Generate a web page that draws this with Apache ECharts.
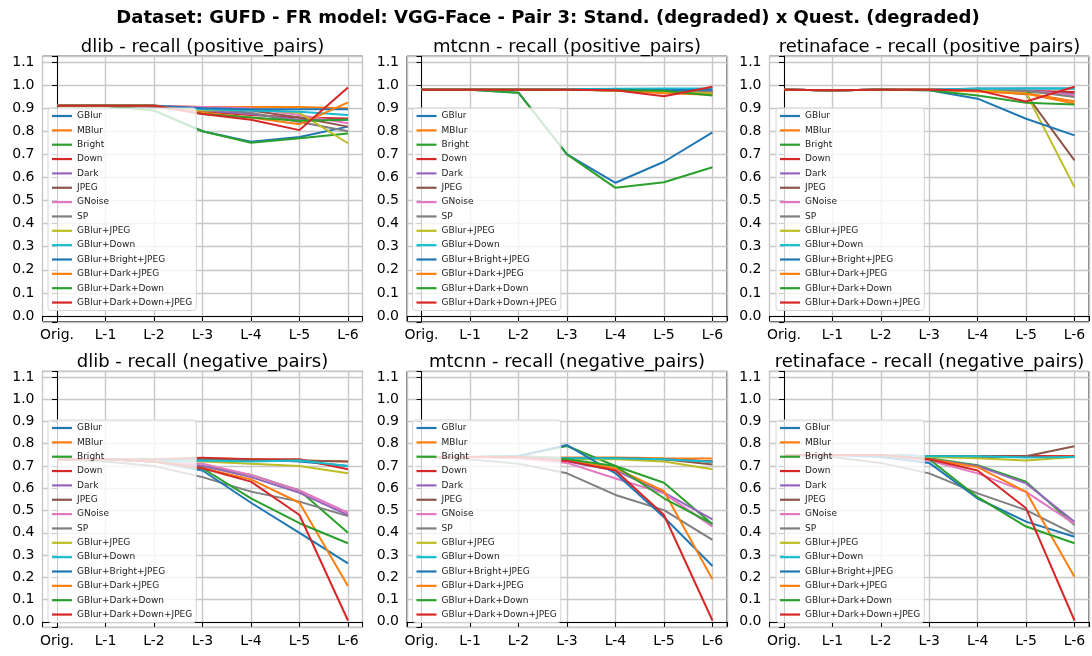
<!DOCTYPE html>
<html>
<head>
<meta charset="utf-8">
<script src="https://cdn.jsdelivr.net/npm/echarts@6/dist/echarts.min.js"></script>
<style>
html,body{margin:0;padding:0;background:#fff;}
#chart{width:1092px;height:656px;}
</style>
</head>
<body>
<div id="chart"></div>
<script>
const levels = ['Orig.', 'L-1', 'L-2', 'L-3', 'L-4', 'L-5', 'L-6'];
const seriesNames = ['GBlur', 'MBlur', 'Bright', 'Down', 'Dark', 'JPEG', 'GNoise', 'SP',
  'GBlur+JPEG', 'GBlur+Down', 'GBlur+Bright+JPEG', 'GBlur+Dark+JPEG', 'GBlur+Dark+Down', 'GBlur+Dark+Down+JPEG'];
const seriesColors = ['#1f77b4', '#ff7f0e', '#2ca02c', '#d62728', '#9467bd', '#8c564b', '#e377c2', '#7f7f7f',
  '#bcbd22', '#17becf', '#1f77b4', '#ff7f0e', '#2ca02c', '#d62728'];
const yTickValues = [0.0, 0.1, 0.2, 0.3, 0.4, 0.5, 0.6, 0.7, 0.8, 0.9, 1.0, 1.1];
const mainTitle = 'Dataset: GUFD - FR model: VGG-Face - Pair 3: Stand. (degraded) x Quest. (degraded)';
const panelTitles = ['dlib - recall (positive_pairs)', 'mtcnn - recall (positive_pairs)', 'retinaface - recall (positive_pairs)',
  'dlib - recall (negative_pairs)', 'mtcnn - recall (negative_pairs)', 'retinaface - recall (negative_pairs)'];

// rows follow seriesNames order; columns follow levels
const dlibPositive = [
  [0.91, 0.91, 0.89, 0.80, 0.755, 0.775, 0.82],
  [0.91, 0.91, 0.91, 0.905, 0.905, 0.905, 0.90],
  [0.91, 0.91, 0.89, 0.80, 0.75, 0.77, 0.79],
  [0.91, 0.91, 0.91, 0.885, 0.87, 0.86, 0.855],
  [0.91, 0.91, 0.91, 0.89, 0.875, 0.85, 0.85],
  [0.91, 0.91, 0.91, 0.90, 0.89, 0.86, 0.82],
  [0.91, 0.91, 0.91, 0.905, 0.90, 0.87, 0.835],
  [0.91, 0.91, 0.905, 0.90, 0.88, 0.84, 0.80],
  [0.91, 0.91, 0.91, 0.89, 0.895, 0.88, 0.748],
  [0.91, 0.91, 0.91, 0.895, 0.89, 0.885, 0.87],
  [0.91, 0.91, 0.91, 0.90, 0.895, 0.895, 0.895],
  [0.91, 0.91, 0.91, 0.88, 0.86, 0.83, 0.925],
  [0.91, 0.91, 0.91, 0.875, 0.86, 0.845, 0.85],
  [0.91, 0.91, 0.91, 0.875, 0.85, 0.805, 0.99]
];
const mtcnnPositive = [
  [0.98, 0.98, 0.967, 0.70, 0.577, 0.668, 0.795],
  [0.98, 0.98, 0.98, 0.98, 0.978, 0.972, 0.962],
  [0.98, 0.98, 0.967, 0.70, 0.555, 0.579, 0.644],
  [0.98, 0.98, 0.98, 0.98, 0.978, 0.975, 0.97],
  [0.98, 0.98, 0.98, 0.98, 0.978, 0.976, 0.972],
  [0.98, 0.98, 0.98, 0.98, 0.978, 0.975, 0.968],
  [0.98, 0.98, 0.98, 0.98, 0.98, 0.978, 0.975],
  [0.98, 0.98, 0.98, 0.98, 0.978, 0.975, 0.97],
  [0.98, 0.98, 0.98, 0.98, 0.978, 0.97, 0.965],
  [0.98, 0.98, 0.98, 0.982, 0.984, 0.985, 0.985],
  [0.98, 0.98, 0.98, 0.98, 0.98, 0.978, 0.98],
  [0.98, 0.98, 0.98, 0.98, 0.976, 0.965, 0.958],
  [0.98, 0.98, 0.98, 0.98, 0.978, 0.975, 0.955],
  [0.98, 0.98, 0.98, 0.98, 0.978, 0.952, 0.993]
];
const retinafacePositive = [
  [0.98, 0.978, 0.98, 0.98, 0.985, 0.985, 0.985],
  [0.98, 0.978, 0.98, 0.98, 0.975, 0.965, 0.93],
  [0.98, 0.978, 0.98, 0.98, 0.975, 0.97, 0.965],
  [0.98, 0.978, 0.98, 0.98, 0.978, 0.975, 0.97],
  [0.98, 0.978, 0.98, 0.98, 0.978, 0.975, 0.96],
  [0.98, 0.978, 0.98, 0.98, 0.978, 0.96, 0.674],
  [0.98, 0.978, 0.98, 0.98, 0.978, 0.975, 0.955],
  [0.98, 0.978, 0.98, 0.98, 0.978, 0.975, 0.948],
  [0.98, 0.978, 0.98, 0.98, 0.978, 0.965, 0.558],
  [0.98, 0.978, 0.98, 0.98, 0.984, 0.985, 0.985],
  [0.98, 0.978, 0.98, 0.978, 0.941, 0.854, 0.782],
  [0.98, 0.978, 0.98, 0.98, 0.972, 0.962, 0.92],
  [0.98, 0.978, 0.98, 0.978, 0.955, 0.923, 0.916],
  [0.98, 0.978, 0.98, 0.98, 0.977, 0.929, 0.993]
];
const dlibNegative = [
  [0.73, 0.73, 0.72, 0.73, 0.73, 0.72, 0.70],
  [0.73, 0.73, 0.73, 0.735, 0.73, 0.725, 0.72],
  [0.73, 0.73, 0.72, 0.70, 0.66, 0.59, 0.40],
  [0.73, 0.73, 0.73, 0.737, 0.73, 0.73, 0.685],
  [0.73, 0.73, 0.72, 0.70, 0.65, 0.58, 0.48],
  [0.73, 0.73, 0.73, 0.73, 0.725, 0.725, 0.72],
  [0.73, 0.73, 0.72, 0.71, 0.66, 0.59, 0.49],
  [0.73, 0.72, 0.70, 0.65, 0.585, 0.54, 0.475],
  [0.73, 0.73, 0.72, 0.72, 0.71, 0.70, 0.667],
  [0.73, 0.73, 0.72, 0.725, 0.72, 0.725, 0.70],
  [0.73, 0.73, 0.72, 0.68, 0.535, 0.40, 0.263],
  [0.73, 0.73, 0.72, 0.69, 0.64, 0.535, 0.161],
  [0.73, 0.73, 0.72, 0.69, 0.555, 0.443, 0.353],
  [0.73, 0.73, 0.72, 0.69, 0.63, 0.48, 0.006]
];
const mtcnnNegative = [
  [0.74, 0.74, 0.745, 0.735, 0.735, 0.73, 0.72],
  [0.74, 0.74, 0.74, 0.738, 0.738, 0.735, 0.734],
  [0.74, 0.74, 0.745, 0.79, 0.70, 0.625, 0.438],
  [0.74, 0.74, 0.74, 0.735, 0.735, 0.73, 0.72],
  [0.74, 0.74, 0.74, 0.72, 0.68, 0.58, 0.46],
  [0.74, 0.74, 0.74, 0.735, 0.735, 0.73, 0.707],
  [0.74, 0.74, 0.735, 0.714, 0.644, 0.577, 0.428],
  [0.74, 0.73, 0.71, 0.667, 0.57, 0.502, 0.368],
  [0.74, 0.74, 0.74, 0.73, 0.73, 0.72, 0.685],
  [0.74, 0.74, 0.74, 0.735, 0.735, 0.73, 0.719],
  [0.74, 0.74, 0.745, 0.794, 0.667, 0.47, 0.251],
  [0.74, 0.74, 0.74, 0.725, 0.69, 0.587, 0.191],
  [0.74, 0.74, 0.74, 0.73, 0.70, 0.555, 0.44],
  [0.74, 0.74, 0.74, 0.723, 0.68, 0.48, 0.006]
];
const retinafaceNegative = [
  [0.75, 0.75, 0.75, 0.74, 0.74, 0.74, 0.74],
  [0.75, 0.75, 0.75, 0.744, 0.744, 0.744, 0.744],
  [0.75, 0.75, 0.75, 0.735, 0.704, 0.629, 0.435],
  [0.75, 0.75, 0.75, 0.744, 0.744, 0.745, 0.744],
  [0.75, 0.75, 0.75, 0.73, 0.70, 0.622, 0.45],
  [0.75, 0.75, 0.75, 0.744, 0.744, 0.744, 0.789],
  [0.75, 0.75, 0.745, 0.725, 0.667, 0.584, 0.44],
  [0.75, 0.74, 0.714, 0.667, 0.577, 0.502, 0.394],
  [0.75, 0.75, 0.75, 0.74, 0.735, 0.725, 0.74],
  [0.75, 0.75, 0.75, 0.744, 0.744, 0.738, 0.74],
  [0.75, 0.75, 0.74, 0.714, 0.554, 0.45, 0.382],
  [0.75, 0.75, 0.75, 0.73, 0.695, 0.584, 0.203],
  [0.75, 0.75, 0.75, 0.73, 0.56, 0.428, 0.353],
  [0.75, 0.75, 0.75, 0.73, 0.68, 0.51, 0.006]
];
const panelData = [dlibPositive, mtcnnPositive, retinafacePositive, dlibNegative, mtcnnNegative, retinafaceNegative];

// layout
const FONT = 'DejaVu Sans';
const colLeft = [42.5, 407, 769.5];
const colWidth = 320;
const rowTop = [56.2, 371.4];
const rowHeight = [265.6, 256];
const legendLeft = [48, 412.5, 776];
const legendTop = [108, 420];
const titleY = [38, 353];

const grids = [], xAxes = [], yAxes = [], series = [], legends = [], titles = [];
titles.push({ text: mainTitle, left: 548, top: 9, textAlign: 'center', padding: 0,
  textStyle: { fontFamily: FONT, fontSize: 18, fontWeight: 'bold', color: '#000' } });

for (let p = 0; p < 6; p++) {
  const r = Math.floor(p / 3), c = p % 3;
  grids.push({ left: colLeft[c], top: rowTop[r], width: colWidth, height: rowHeight[r], show: true,
    borderColor: '#000', borderWidth: 1, backgroundColor: 'transparent', containLabel: false });
  xAxes.push({ type: 'value', gridIndex: p, min: -0.3, max: 6.3, minInterval: 1, maxInterval: 1,
    axisLine: { show: true, lineStyle: { color: '#000', width: 1 } },
    axisTick: { show: true, length: 5, lineStyle: { color: '#000' } },
    axisLabel: { margin: 7, fontFamily: FONT, fontSize: 14, color: '#000',
      formatter: v => (Math.abs(v - Math.round(v)) < 1e-6 ? levels[Math.round(v)] : '') },
    splitLine: { show: true, lineStyle: { color: '#c8c8c8', width: 1.4 } } });
  yAxes.push({ type: 'value', gridIndex: p, min: -0.025, max: 1.125, minInterval: 0.1, maxInterval: 0.1,
    axisLine: { show: true, lineStyle: { color: '#000', width: 1 } },
    axisTick: { show: true, length: 5, lineStyle: { color: '#000' } },
    axisLabel: { margin: 8, fontFamily: FONT, fontSize: 14, color: '#000',
      formatter: v => {
        const k = Math.round(v * 10);
        if (Math.abs(v * 10 - k) > 1e-6) return '';
        return yTickValues[k] !== undefined ? yTickValues[k].toFixed(1) : '';
      } },
    splitLine: { show: true, lineStyle: { color: '#c8c8c8', width: 1.4 } } });
  titles.push({ text: panelTitles[p], left: colLeft[c] + colWidth / 2, top: titleY[r], textAlign: 'center', padding: 0,
    textStyle: { fontFamily: FONT, fontSize: 18, fontWeight: 'normal', color: '#000' } });
  legends.push({ orient: 'vertical', left: legendLeft[c], top: legendTop[r],
    data: seriesNames.map(n => ({ name: n, icon: 'rect' })),
    itemWidth: 20, itemHeight: 2.2, itemGap: 4.35, padding: [3, 4, 3, 4],
    backgroundColor: 'rgba(255,255,255,0.8)', borderColor: '#d4d4d4', borderWidth: 1, borderRadius: 3,
    textStyle: { fontFamily: FONT, fontSize: 9, color: '#222', lineHeight: 10, height: 10 },
    selectedMode: false, z: 10 });
  const data = panelData[p];
  for (let s = 0; s < seriesNames.length; s++) {
    series.push({ type: 'line', name: seriesNames[s], xAxisIndex: p, yAxisIndex: p,
      data: data[s].map((v, i) => [i, v]), symbol: 'none', showSymbol: false,
      lineStyle: { width: 2, color: seriesColors[s] }, itemStyle: { color: seriesColors[s] },
      emphasis: { disabled: true }, animation: false, z: 2 });
  }
}

const chart = echarts.init(document.getElementById('chart'), null, { renderer: 'canvas' });
chart.setOption({
  animation: false,
  backgroundColor: '#fff',
  title: titles,
  grid: grids,
  xAxis: xAxes,
  yAxis: yAxes,
  legend: legends,
  series: series
});
</script>
</body>
</html>
